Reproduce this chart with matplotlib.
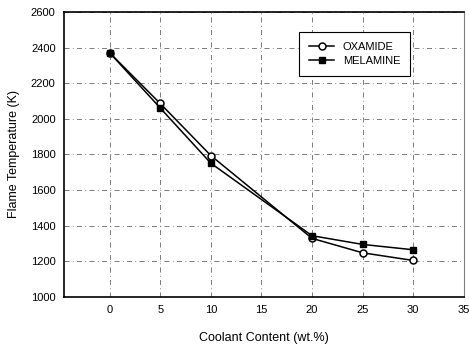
import numpy as np
import matplotlib.pyplot as plt

plt.rcParams['font.family'] = ['Liberation Sans', 'DejaVu Sans']

# Datos
contenido = [0, 5, 10, 20, 25, 30]
oxamide = [2371, 2086, 1794, 1329, 1248, 1205]
melamine = [2371, 2061, 1751, 1344, 1295, 1265]

fig = plt.figure(figsize=(4.69, 3.49), dpi=100)
ax = fig.add_axes([0.1365, 0.149, 0.8525, 0.817])

ax.plot(contenido, oxamide, color="black", lw=1.1, marker="o", ms=5,
        mfc="white", mec="black", mew=1.1, label="OXAMIDE")
ax.plot(contenido, melamine, color="black", lw=1.1, marker="s", ms=5,
        mfc="black", mec="black", label="MELAMINE")

ax.set_xlim(-4.5, 35)
ax.set_ylim(1000, 2600)
ax.set_xticks(np.arange(0, 36, 5))
ax.set_yticks(np.arange(1000, 2601, 200))
ax.grid(True, color="0.4", lw=0.6, linestyle=(0, (6, 4, 1, 4)))
ax.tick_params(labelsize=8, length=0, pad=6)

for s in ["left", "bottom", "top"]:
    ax.spines[s].set_linewidth(1.2)
ax.spines["right"].set_color("0.5")

ax.set_xlabel("Coolant Content (wt.%)", fontsize=9, labelpad=12)
ax.set_ylabel("Flame Temperature (K)", fontsize=9, labelpad=8)

leg = ax.legend(loc="upper right", bbox_to_anchor=(0.88, 0.948), fontsize=8,
                frameon=True, fancybox=False, edgecolor="black",
                framealpha=1, borderpad=0.9, handlelength=2.2,
                labelspacing=0.35)
leg.get_frame().set_linewidth(0.8)

plt.savefig("out.png", dpi=100)
